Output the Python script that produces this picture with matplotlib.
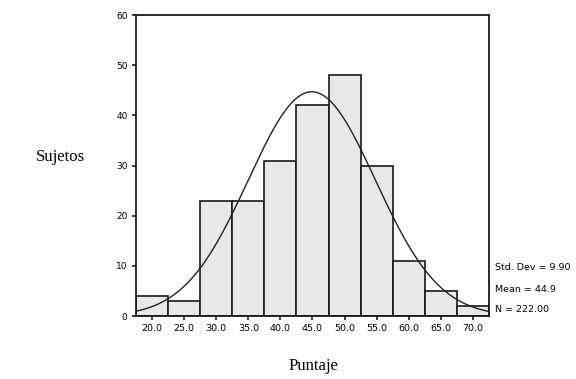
import numpy as np
import matplotlib
matplotlib.use("Agg")
import matplotlib.pyplot as plt

# Data
bin_centers = [20.0, 25.0, 30.0, 35.0, 40.0, 45.0, 50.0, 55.0, 60.0, 65.0, 70.0]
counts = [4, 3, 23, 23, 31, 42, 48, 30, 11, 5, 2]
tick_labels = ["20.0", "25.0", "30.0", "35.0", "40.0", "45.0", "50.0", "55.0", "60.0", "65.0", "70.0"]
y_ticks = [0, 10, 20, 30, 40, 50, 60]
std_dev = 9.90
mean = 44.9
n_total = 222.00
bin_width = 5.0

fig = plt.figure(figsize=(5.76, 3.79), dpi=100)
ax = fig.add_axes([0.236, 0.166, 0.613, 0.794])

ax.bar(bin_centers, counts, width=bin_width, color="#e8e8e8",
       edgecolor="#1a1a1a", linewidth=1.2, zorder=2)

xmin = bin_centers[0] - bin_width / 2
xmax = bin_centers[-1] + bin_width / 2
xs = np.linspace(xmin, xmax, 400)
pdf = n_total * bin_width / (std_dev * np.sqrt(2 * np.pi)) * np.exp(-0.5 * ((xs - mean) / std_dev) ** 2)
ax.plot(xs, pdf, color="#222222", linewidth=1.0, zorder=3)

ax.set_xlim(xmin, xmax)
ax.set_ylim(0, 60)
ax.set_xticks(bin_centers)
ax.set_xticklabels(tick_labels, fontsize=6.8, fontfamily="DejaVu Sans")
ax.set_yticks(y_ticks)
ax.set_yticklabels([str(v) for v in y_ticks], fontsize=6.5, fontfamily="DejaVu Sans")
ax.tick_params(direction="out", length=3, width=1.2, pad=3, color="#1a1a1a")
for s in ax.spines.values():
    s.set_linewidth(1.3)
    s.set_color("#1a1a1a")

fig.text(0.105, 0.585, "Sujetos", fontsize=12, fontfamily="Liberation Serif",
         ha="center", va="center")
fig.text(0.544, 0.035, "Puntaje", fontsize=12, fontfamily="Liberation Serif",
         ha="center", va="center")

stats = [f"Std. Dev = {std_dev:.2f}", f"Mean = {mean:.1f}", f"N = {n_total:.2f}"]
ys = [0.293, 0.237, 0.183]
for t, y in zip(stats, ys):
    fig.text(0.86, y, t, fontsize=6.8, fontfamily="DejaVu Sans", ha="left", va="center")

fig.savefig("out.png", dpi=100)
